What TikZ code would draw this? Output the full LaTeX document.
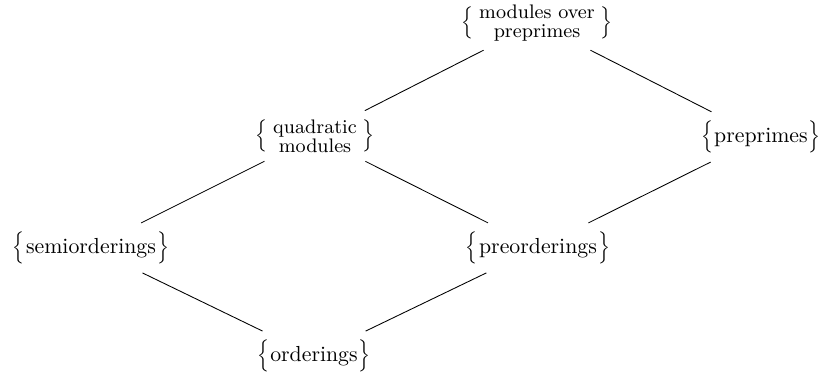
\documentclass[tikz,border=0pt]{standalone}
\usepackage{amsmath}
\usepackage{graphicx}
\usetikzlibrary{positioning}
\newcommand{\lbr}{\vcenter{\hbox{\scalebox{0.82}{$\Big\{$}}}}
\newcommand{\rbr}{\vcenter{\hbox{\scalebox{0.82}{$\Big\}$}}}}
\newcommand{\collection}[1]{$\lbr\mkern1mu\mbox{#1}\mkern1mu\rbr$}
\newcommand{\collectiontwo}[2]{$\lbr\;\vcenter{\small\baselineskip=8.6pt\lineskiplimit=-20pt
  \halign{\hfil##\hfil\cr #1\cr #2\cr}}\;\rbr$}
\tikzset{
setnode/.style={inner sep=1pt, outer sep=0pt}, % one node per class of objects
link/.style={shorten <=7pt, shorten >=7pt}, % plain edges, with a gap at each end
}
\begin{document}
\begin{tikzpicture}[x=0.4587pt, y=-0.4587pt]
\useasboundingbox (0,0) rectangle (823,378);
\node[setnode] (modules) at (537,23) {\collectiontwo{modules over}{preprimes}};
\node[setnode] (quadratic) at (315,136) {\collectiontwo{quadratic}{modules}};
\node[setnode] (preprimes) at (761,137) {\collection{preprimes}};
\node[setnode] (semi) at (91,248) {\collection{semiorderings}};
\node[setnode] (preorder) at (538,248) {\collection{preorderings}};
\node[setnode] (order) at (314,356) {\collection{orderings}};
\draw[link] (modules) -- (quadratic);
\draw[link] (modules) -- (preprimes);
\draw[link] (quadratic) -- (semi);
\draw[link] (quadratic) -- (preorder);
\draw[link] (preprimes) -- (preorder);
\draw[link] (semi) -- (order);
\draw[link] (preorder) -- (order);
\end{tikzpicture}
\end{document}
